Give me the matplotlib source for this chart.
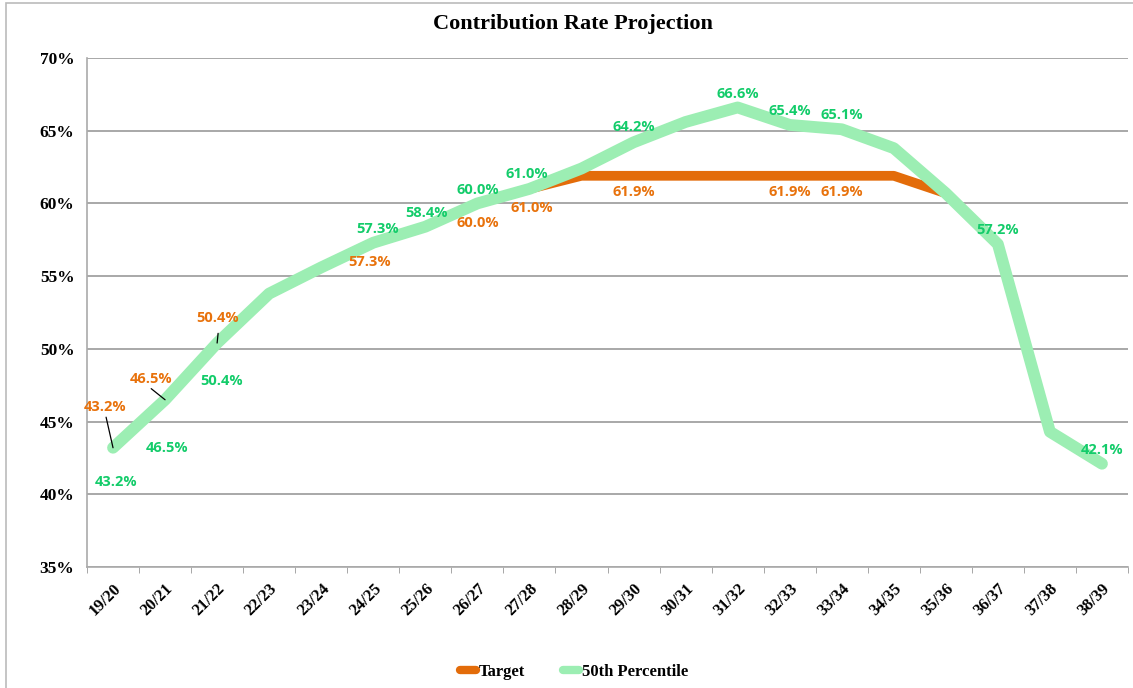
import matplotlib
matplotlib.use("Agg")
import matplotlib.pyplot as plt
from matplotlib.patches import Rectangle
from matplotlib.ticker import FixedLocator, PercentFormatter

# Data
years = ["19/20", "20/21", "21/22", "22/23", "23/24", "24/25", "25/26", "26/27", "27/28", "28/29",
         "29/30", "30/31", "31/32", "32/33", "33/34", "34/35", "35/36", "36/37", "37/38", "38/39"]
target = [43.2, 46.5, 50.4, 53.8, 55.6, 57.3, 58.4, 60.0, 61.0, 61.9,
          61.9, 61.9, 61.9, 61.9, 61.9, 61.9, 60.7, 57.2, 44.3, 42.1]
p50 = [43.2, 46.5, 50.4, 53.8, 55.6, 57.3, 58.4, 60.0, 61.0, 62.4,
       64.2, 65.6, 66.6, 65.4, 65.1, 63.8, 60.7, 57.2, 44.3, 42.1]

# which points get a data label: (index, dx, dy in points)
target_labels = [(0, -6, 29.5), (1, -10, 15), (2, 0, 18), (5, -3, -14), (7, 0, -14),
                 (8, 2, -14), (10, 0, -12), (13, 0, -12), (14, 0, -12)]
p50_labels = [(0, 2, -24.5), (1, 1.5, -35), (2, 3, -27), (5, 3, 10), (6, 1, 10), (7, 0, 10),
              (8, -2, 11), (10, 0, 11), (12, 0, 10), (13, 0, 10), (14, 0, 10), (17, 0, 10), (19, 0, 10)]
# leader lines for the first three target labels (start offset in points)
leaders = [(0, -5, 22), (1, -10, 8), (2, 0.7, 7)]

orange = "#E36C0A"
green = "#9CEEB3"
orange_txt = "#E8720C"
green_txt = "#13CC6A"

plt.rcParams["font.family"] = ["Liberation Serif", "DejaVu Serif"]

fig = plt.figure(figsize=(11.33, 6.88), dpi=100)
fig.patches.append(Rectangle((6 / 1133, -0.1), 1.2, 1.1 - 3 / 688, transform=fig.transFigure,
                             fill=False, edgecolor="#BBBBBB", linewidth=1.2))
ax = fig.add_axes([87 / 1133, 1 - 567 / 688, 1041 / 1133, (567 - 58) / 688])

x = list(range(len(years)))
ax.plot(x, target, color=orange, linewidth=7, solid_capstyle="round", solid_joinstyle="round",
        label="Target", zorder=3)
ax.plot(x, p50, color=green, linewidth=8.5, solid_capstyle="round", solid_joinstyle="round",
        label="50th Percentile", zorder=4)

lbl_font = dict(family=["Open Sans", "DejaVu Sans"], fontsize=10.5, fontweight="bold")
for i, dx, dy in target_labels:
    ax.annotate(f"{target[i]:.1f}%", (i, target[i]), xytext=(dx, dy), textcoords="offset points",
                ha="center", va="center", color=orange_txt, zorder=6, **lbl_font)
for i, dx, dy in p50_labels:
    ax.annotate(f"{p50[i]:.1f}%", (i, p50[i]), xytext=(dx, dy), textcoords="offset points",
                ha="center", va="center", color=green_txt, zorder=6, **lbl_font)

for i, dx, dy in leaders:
    ax.annotate("", (i, target[i]), xytext=(dx, dy), textcoords="offset points",
                arrowprops=dict(arrowstyle="-", color="black", lw=0.9, shrinkA=0, shrinkB=0), zorder=7)

ax.set_ylim(35, 70)
ax.set_xlim(-0.5, len(years) - 0.5)
ax.set_yticks(range(35, 71, 5))
ax.yaxis.set_major_formatter(PercentFormatter(decimals=0))
ax.grid(axis="y", color="#999999", linewidth=1.2)
ax.set_axisbelow(True)

ax.set_xticks(x)
ax.set_xticklabels(years, rotation=45, ha="right", rotation_mode="anchor")
ax.xaxis.set_minor_locator(FixedLocator([v - 0.5 for v in range(len(years) + 1)]))
ax.tick_params(axis="x", which="major", length=0, pad=10, labelsize=12)
ax.tick_params(axis="x", which="minor", length=4, color="#999999")
ax.tick_params(axis="y", length=0, pad=9, labelsize=12.5)
for lab in ax.get_xticklabels() + ax.get_yticklabels():
    lab.set_fontweight("bold")

for s in ["top", "right"]:
    ax.spines[s].set_visible(False)
ax.spines["left"].set_color("#AAAAAA")
ax.spines["bottom"].set_color("#AAAAAA")
ax.spines["left"].set_linewidth(1.2)
ax.spines["bottom"].set_linewidth(1.2)

fig.text(573 / 1133, 1 - 24 / 688, "Contribution Rate Projection", ha="center", va="center",
         fontsize=16, fontweight="bold")

leg = fig.legend(loc="center", bbox_to_anchor=(574 / 1133, 1 - 672 / 688), ncol=2,
                 frameon=False, handlelength=0.95, handletextpad=0.15, columnspacing=2.3,
                 prop=dict(weight="bold", size=12))
for h in leg.get_lines():
    h.set_linewidth(6)

fig.savefig("out.png", dpi=100)
